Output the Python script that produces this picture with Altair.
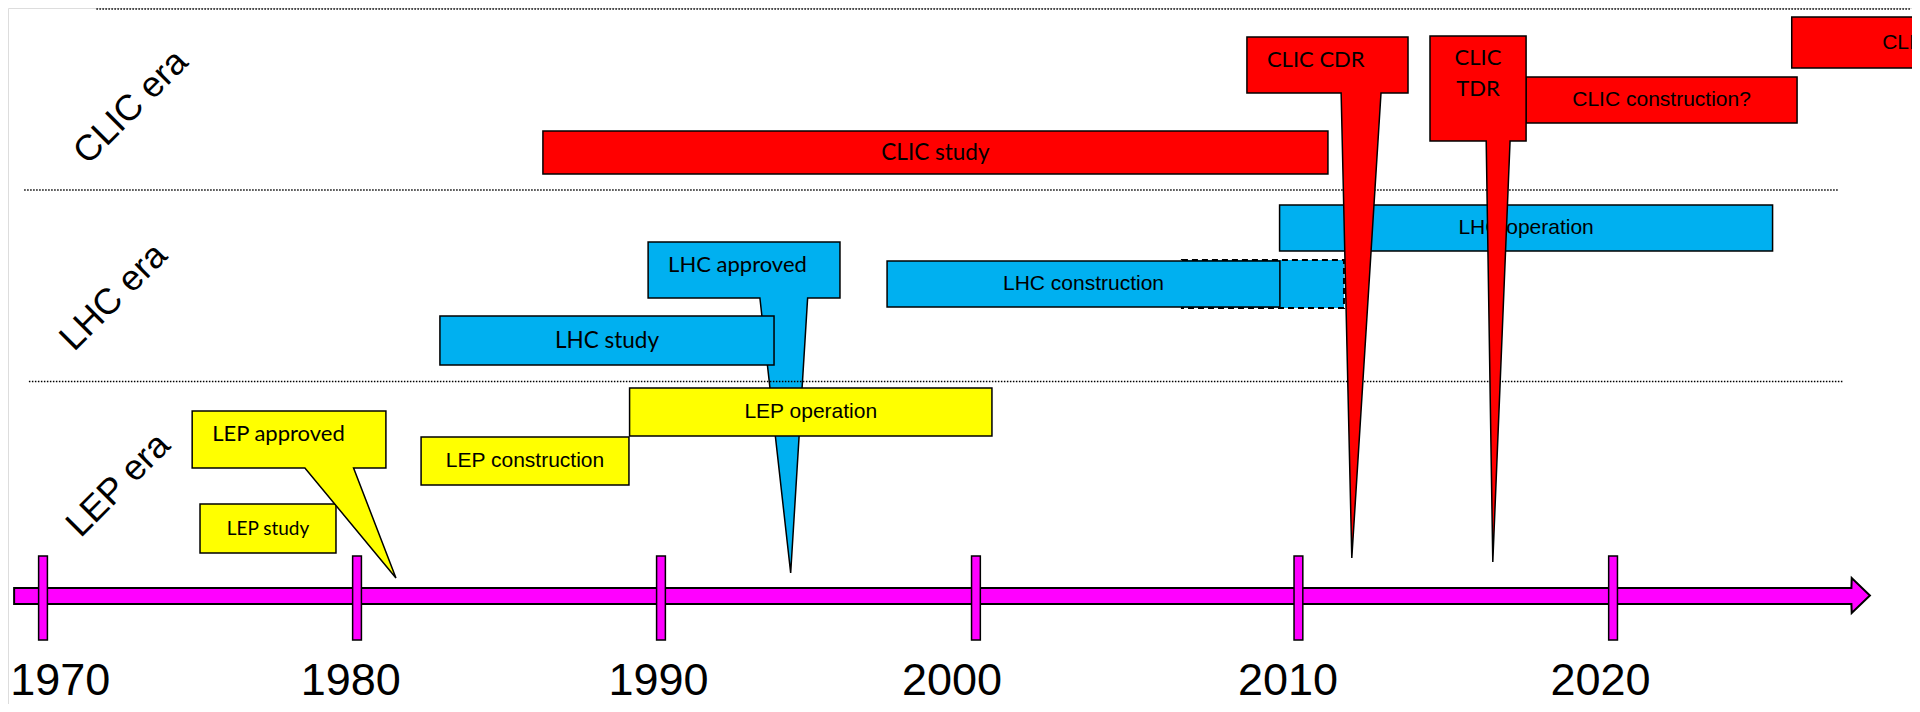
import altair as alt
import pandas as pd

# ---------------- data ----------------
# timeline axis (years); tick marks are hand placed in the original drawing
tick_years = [1970, 1980, 1990, 2000, 2010, 2020]
tick_pos = [1970.0, 1980.0, 1989.68, 1999.71, 2009.98, 2020.0]
tick_labels = ["1970", "1980", "1990", "2000", "2010", "2020"]
label_years = [1970.55, 1979.8, 1989.6, 1998.95, 2009.65, 2019.6]
axis_start = 1969.08
axis_head = 2027.6
axis_tip = 2028.18

# era names and dotted separators (level = height above the time line)
era_names = ["CLIC era", "LHC era", "LEP era"]
era_year = [1972.8, 1972.25, 1972.4]
era_level = [489, 299, 111]
sep_start = [1971.7, 1969.4, 1969.55]
sep_end = [2029.5, 2027.2, 2027.35]
sep_level = [587, 406, 214.5]

# plain boxes
box_label = ["LEP study", "LEP construction", "LEP operation", "LHC study",
             "LHC construction", "LHC operation", "CLIC study",
             "CLIC construction?", "CLIC operation"]
box_start = [1975.0, 1982.04, 1988.68, 1982.64, 1996.88, 2009.38, 1985.92, 2017.23, 2025.69]
box_end = [1979.33, 1988.66, 2000.22, 1993.28, 2009.39, 2025.08, 2010.92, 2025.86, 2035.95]
box_top = [92, 159, 208, 280, 335, 391, 465, 519, 579]
box_bottom = [43, 111, 160, 231, 289, 345, 422, 473, 528]
box_era = ["LEP", "LEP", "LEP", "LHC", "LHC", "LHC", "CLIC", "CLIC", "CLIC"]
box_font = ["comic", "arial", "arial", "comic", "arial", "arial", "comic", "arial", "arial"]

# possible LHC extension (dashed)
ext_start = [2006.27]
ext_end = [2011.43]
ext_top = [336]
ext_bottom = [288]

# callouts (milestones)
callout_label = ["LEP approved", "LHC approved", "CLIC CDR", "CLIC TDR"]
callout_era = ["LEP", "LHC", "CLIC", "CLIC"]
callout_start = [1974.75, 1989.27, 2008.34, 2014.17]
callout_end = [1980.92, 1995.38, 2013.47, 2017.23]
callout_top = [185, 354, 559, 560]
callout_bottom = [128, 298, 503, 455]
pointer_left = [1978.34, 1992.83, 2011.34, 2015.96]
pointer_right = [1979.89, 1994.35, 2012.61, 2016.72]
pointer_tip_year = [1981.24, 1993.81, 2011.68, 2016.17]
pointer_tip_level = [18, 23, 38, 34]

# ---------------- scales ----------------
X_DOMAIN = [1968.885, 2029.52]
Y_DOMAIN = [-108, 588]
XS = alt.Scale(domain=X_DOMAIN, nice=False, zero=False)
YS = alt.Scale(domain=Y_DOMAIN, nice=False, zero=False)


def xq(f):
    return alt.X(f"{f}:Q", scale=XS, axis=None)


def yq(f):
    return alt.Y(f"{f}:Q", scale=YS, axis=None)


fill_enc = alt.Fill("era:N", legend=None,
                    scale=alt.Scale(domain=["LEP", "LHC", "CLIC", "axis"],
                                    range=["#FFFF00", "#00B0F0", "#FF0000", "#FF00FF"]))

COMIC = "Comic Sans MS, Lato, sans-serif"
ARIAL = "Liberation Sans, Arial, sans-serif"

# ---------------- tables ----------------
boxes = pd.DataFrame(dict(label=box_label, start=box_start, end=box_end, top=box_top,
                          bottom=box_bottom, era=box_era, font=box_font))
ext = pd.DataFrame(dict(start=ext_start, end=ext_end, top=ext_top, bottom=ext_bottom))
seps = pd.DataFrame(dict(start=sep_start, end=sep_end, level=sep_level))
eras = pd.DataFrame(dict(name=era_names, year=era_year, level=era_level))
ticks = pd.DataFrame(dict(year=tick_years, pos=tick_pos))
years = pd.DataFrame(dict(label=tick_labels, year=label_years))

arrow = pd.DataFrame(dict(
    x=[axis_start, axis_head - 0.01, axis_head, axis_tip],
    lo=[-8, -8, -17, 0.5],
    hi=[8, 8, 18, 0.5],
    era=["axis"] * 4,
))

rows = []
for i in range(len(callout_label)):
    e = callout_era[i]
    rows += [
        dict(id=i, era=e, y=pointer_tip_level[i], x=pointer_tip_year[i], x2=pointer_tip_year[i]),
        dict(id=i, era=e, y=callout_bottom[i], x=pointer_left[i], x2=pointer_right[i]),
        dict(id=i, era=e, y=callout_bottom[i] + 0.01, x=callout_start[i], x2=callout_end[i]),
        dict(id=i, era=e, y=callout_top[i], x=callout_start[i], x2=callout_end[i]),
    ]
callouts = pd.DataFrame(rows)
callout_txt = pd.DataFrame(dict(label=callout_label, start=callout_start, end=callout_end,
                                top=callout_top))


def callout_layer(ids):
    return alt.Chart(callouts).transform_filter(
        alt.FieldOneOfPredicate(field="id", oneOf=ids)
    ).mark_area(orient="horizontal", stroke="black", strokeWidth=1.5, opacity=1,
                interpolate="linear", strokeJoin="miter").encode(
        y=yq("y"), x=xq("x"), x2="x2:Q", fill=fill_enc, detail="id:N")


lhc_callout = callout_layer([1])
lep_callout = callout_layer([0])
clic_callouts = callout_layer([2, 3])

sep_layer = alt.Chart(seps).mark_rule(color="black", strokeWidth=1.5, strokeDash=[1.5, 1.5]).encode(
    x=xq("start"), x2="end:Q", y=yq("level"))

arrow_layer = alt.Chart(arrow).mark_area(orient="vertical", stroke="black", strokeWidth=2,
                                         opacity=1, interpolate="linear").encode(
    x=xq("x"), y=yq("lo"), y2="hi:Q", fill=fill_enc)

tick_layer = alt.Chart(ticks).transform_calculate(
    x1="datum.pos - 0.14", x2="datum.pos + 0.14", top="40", bot="-44", era="'axis'"
).mark_rect(stroke="black", strokeWidth=1.5).encode(
    x=xq("x1"), x2="x2:Q", y=yq("top"), y2="bot:Q", fill=fill_enc)

year_layer = alt.Chart(years).transform_calculate(level="-84.5").mark_text(
    font=ARIAL, fontSize=45, align="center", baseline="middle", color="black").encode(
    x=xq("year"), y=yq("level"), text="label:N")

era_layer = alt.Chart(eras).mark_text(
    font=ARIAL, fontSize=36, angle=315, align="center", baseline="middle", color="black").encode(
    x=xq("year"), y=yq("level"), text="name:N")

ext_layer = alt.Chart(ext).mark_rect(fill="#00B0F0", stroke="black", strokeWidth=2,
                                     strokeDash=[6, 4]).encode(
    x=xq("start"), x2="end:Q", y=yq("top"), y2="bottom:Q")

box_layer = alt.Chart(boxes).mark_rect(stroke="black", strokeWidth=1.5).encode(
    x=xq("start"), x2="end:Q", y=yq("top"), y2="bottom:Q", fill=fill_enc)

box_mid = alt.Chart(boxes).transform_calculate(
    xm="(datum.start + datum.end) / 2", ym="(datum.top + datum.bottom) / 2")

box_text_arial = box_mid.transform_filter(alt.datum.font == "arial").mark_text(
    font=ARIAL, fontSize=21, align="center", baseline="middle", color="black").encode(
    x=xq("xm"), y=yq("ym"), text="label:N")

box_text_comic = box_mid.transform_filter(
    (alt.datum.font == "comic") & (alt.datum.label != "LEP study")).mark_text(
    font=COMIC, fontSize=22.5, align="center", baseline="middle", color="black").encode(
    x=xq("xm"), y=yq("ym"), text="label:N")

box_text_small = box_mid.transform_filter(alt.datum.label == "LEP study").mark_text(
    font=COMIC, fontSize=19, align="center", baseline="middle", color="black").encode(
    x=xq("xm"), y=yq("ym"), text="label:N")

callout_text_left = alt.Chart(callout_txt).transform_filter(
    alt.datum.label != "CLIC TDR").mark_text(
    font=COMIC, fontSize=22, align="left", baseline="middle", dx=20, dy=23, color="black").encode(
    x=xq("start"), y=yq("top"), text="label:N")

tdr_text = alt.Chart(callout_txt).transform_filter(alt.datum.label == "CLIC TDR").transform_calculate(
    xm="(datum.start + datum.end) / 2", line="split(datum.label, ' ')"
).transform_flatten(["line"]).transform_window(
    idx="row_number()").transform_calculate(
    ly="datum.top - 22 - 31 * (datum.idx - 1)").mark_text(
    font=COMIC, fontSize=22, align="center", baseline="middle", color="black").encode(
    x=xq("xm"), y=yq("ly"), text="line:N")

chart = alt.layer(
    lhc_callout, sep_layer, arrow_layer, tick_layer, year_layer, era_layer,
    ext_layer, box_layer, box_text_arial, box_text_comic, box_text_small,
    lep_callout, clic_callouts, callout_text_left, tdr_text,
).properties(
    width=1904, height=696,
    autosize=alt.AutoSizeParams(type="none"), padding=0,
).configure_view(stroke=None).configure(background="white")

chart.save("out.html", embed_options={"renderer": "svg", "actions": False})
